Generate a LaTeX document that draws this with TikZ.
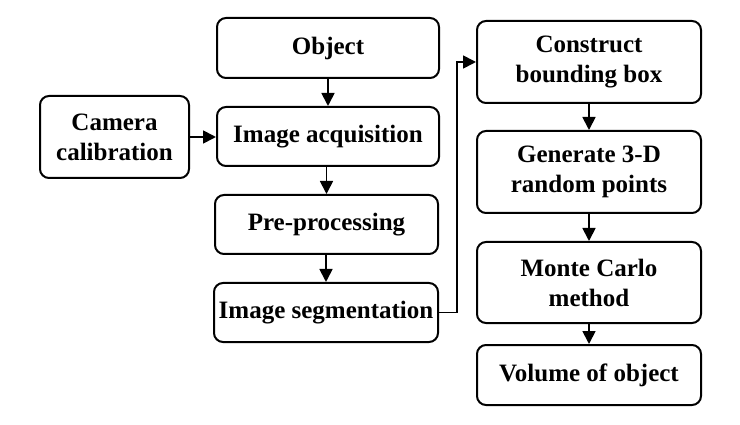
\documentclass[tikz,border=0pt]{standalone}
\usepackage{fontspec}
\setmainfont{Liberation Serif}
\usetikzlibrary{arrows.meta}
\begin{document}
\begin{tikzpicture}[x=1pt,y=-1pt,
  box/.style={draw=black, line width=2pt, rounded corners=9pt, align=center,
    font=\fontsize{25}{30}\selectfont\bfseries, inner sep=0pt},
  conn/.style={line width=1.8pt, -{Triangle[length=13pt,width=13pt]}}]
\useasboundingbox (0,0) rectangle (740,425);
\fill[white] (0,0) rectangle (740,425);
\node[box, minimum width=222pt, minimum height=60pt] (obj) at (328,48) {Object};
\node[box, minimum width=222pt, minimum height=59pt] (acq) at (328,136.5) {Image acquisition};
\node[box, minimum width=149pt, minimum height=82pt] (cam) at (114.5,137) {Camera\\calibration};
\node[box, minimum width=223pt, minimum height=59pt] (pre) at (326.5,224.5) {Pre-processing};
\node[box, minimum width=224pt, minimum height=59pt] (seg) at (326,312.5) {Image segmentation};
\node[box, minimum width=224pt, minimum height=82pt] (con) at (589,62) {Construct\\bounding box};
\node[box, minimum width=224pt, minimum height=82pt] (gen) at (589,172) {Generate 3-D\\random points};
\node[box, minimum width=224pt, minimum height=81pt] (mc) at (589,282.5) {Monte Carlo\\method};
\node[box, minimum width=224pt, minimum height=60pt] (vol) at (589,375) {Volume of object};
\draw[conn] (obj) -- (acq);
\draw[conn] (acq.south -| pre.north) -- (pre.north);
\draw[conn] (pre.south -| seg.north) -- (seg.north);
\draw[conn] (cam.east) -- (cam.east -| acq.west);
\coordinate (bend) at (457,312.5);
\draw[conn] (seg.east) -- (bend) |- (con.west);
\draw[conn] (con) -- (gen);
\draw[conn] (gen) -- (mc);
\draw[conn] (mc) -- (vol);
\end{tikzpicture}
\end{document}
